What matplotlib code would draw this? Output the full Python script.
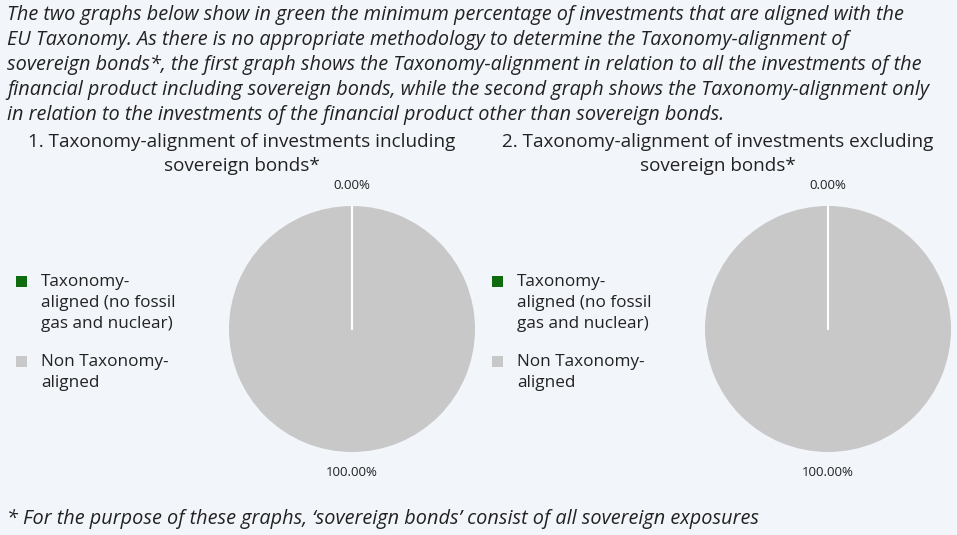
import matplotlib
matplotlib.use("Agg")
import matplotlib.pyplot as plt
import numpy as np

plt.rcParams['font.family'] = ['Open Sans', 'DejaVu Sans']

# data
categories = ["Taxonomy-aligned (no fossil gas and nuclear)", "Non Taxonomy-aligned"]
incl_sovereign = [0.0, 100.0]
excl_sovereign = [0.0, 100.0]
colors = ["#0e6b0e", "#c8c8c8"]

intro = ("The two graphs below show in green the minimum percentage of investments that are aligned with the\n"
         "EU Taxonomy. As there is no appropriate methodology to determine the Taxonomy-alignment of\n"
         "sovereign bonds*, the first graph shows the Taxonomy-alignment in relation to all the investments of the\n"
         "financial product including sovereign bonds, while the second graph shows the Taxonomy-alignment only\n"
         "in relation to the investments of the financial product other than sovereign bonds.")
footnote = "* For the purpose of these graphs, \u2018sovereign bonds\u2019 consist of all sovereign exposures"
titles = ["1. Taxonomy-alignment of investments including\nsovereign bonds*",
          "2. Taxonomy-alignment of investments excluding\nsovereign bonds*"]
legend_lines = ["Taxonomy-\naligned (no fossil\ngas and nuclear)", "Non Taxonomy-\naligned"]

bg = "#f2f5fa"
txt = "#222222"
W, H = 957, 535
fig = plt.figure(figsize=(W / 100, H / 100), dpi=100, facecolor=bg)

def px(x, y):
    return x / W, 1 - y / H

fig.text(*px(7, 65), intro, ha="left", va="center", fontsize=14.3, style="italic",
         color=txt, linespacing=1.33)
fig.text(*px(7, 519), footnote, ha="left", va="center", fontsize=14.3, style="italic", color=txt)

centers = [352, 828]
r = 123
lim = 1.25
for i, (vals, cx) in enumerate(zip([incl_sovereign, excl_sovereign], centers)):
    size = 2 * lim * r
    ax = fig.add_axes([(cx - size / 2) / W, (H - 329 - size / 2) / H, size / W, size / H])
    ax.set_facecolor(bg)
    wedges, _ = ax.pie(vals, colors=colors, startangle=90, counterclock=False,
                       wedgeprops=dict(edgecolor="none"))
    # white separator at the boundary of the zero-size slice
    a0 = np.deg2rad(wedges[0].theta1)
    ax.plot([0, np.cos(a0)], [0, np.sin(a0)], color="white", lw=1.5)
    for w, v in zip(wedges, vals):
        ang = np.deg2rad((w.theta1 + w.theta2) / 2)
        ax.text(1.17 * np.cos(ang), 1.17 * np.sin(ang), f"{v:.2f}%", ha="center", va="center",
                fontsize=9.5, color=txt)
    ax.set_xlim(-lim, lim)
    ax.set_ylim(-lim, lim)
    ax.axis("off")

    # title
    tx = 242 + (cx - centers[0])
    fig.text(*px(tx, 154), titles[i], ha="center", va="center", fontsize=13.6, color=txt,
             linespacing=1.45)

    # legend
    lx = 16 + (cx - centers[0])
    for ly, n, lab, col in zip([282, 362], [3, 2], legend_lines, colors):
        fig.patches.append(plt.Rectangle(px(lx, ly + 5), 11 / W, 11 / H, transform=fig.transFigure,
                                         facecolor=col, edgecolor="none"))
        fig.text(*px(lx + 25, ly + (n - 1) * 10.3), lab, ha="left", va="center", fontsize=12.3,
                 color=txt, linespacing=1.42)

fig.savefig("out.png", dpi=100, facecolor=bg)
